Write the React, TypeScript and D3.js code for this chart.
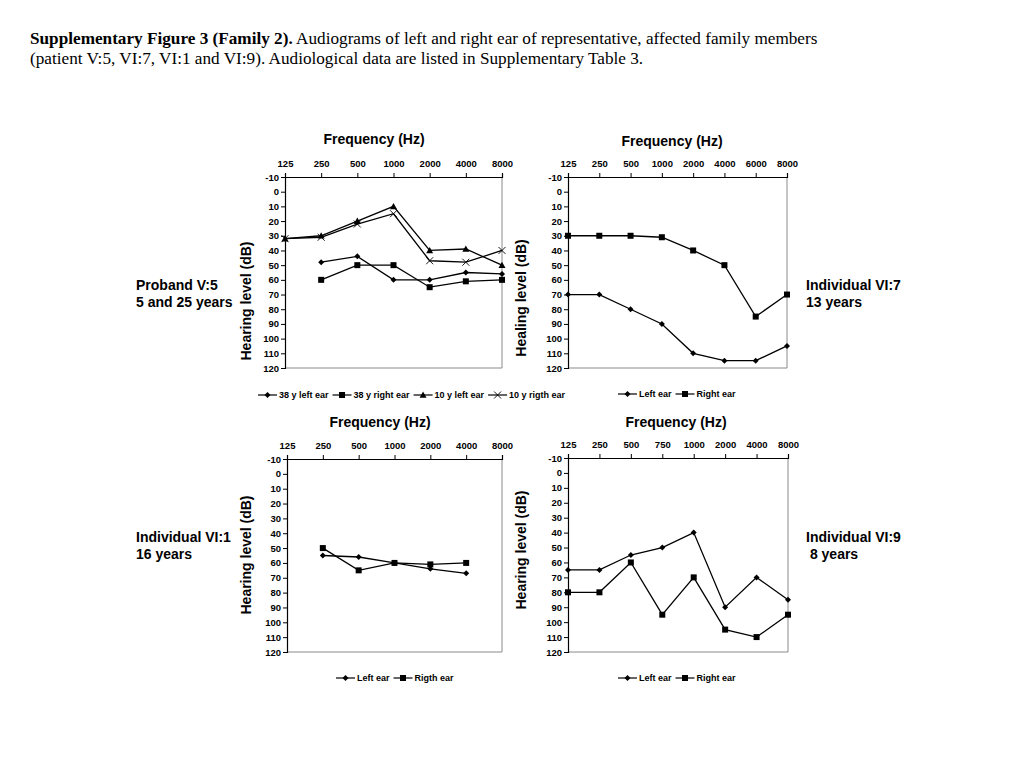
import React, { useEffect, useRef } from "react";
import * as d3 from "d3";

// ---------- data ----------
const yTicks = [-10, 0, 10, 20, 30, 40, 50, 60, 70, 80, 90, 100, 110, 120];

const catsA = ["125", "250", "500", "1000", "2000", "4000", "8000"];
const catsB = ["125", "250", "500", "1000", "2000", "4000", "6000", "8000"];
const catsD = ["125", "250", "500", "750", "1000", "2000", "4000", "8000"];

// Panel 1: Proband V:5
const p1Left38 = [null, 48, 44, 60, 60, 55, 56];
const p1Right38 = [null, 60, 50, 50, 65, 61, 60];
const p1Left10 = [32, 30, 20, 10, 40, 39, 50];
const p1Right10 = [32, 31, 22, 15, 47, 48, 40];

// Panel 2: Individual VI:7
const p2Left = [70, 70, 80, 90, 110, 115, 115, 105];
const p2Right = [30, 30, 30, 31, 40, 50, 85, 70];

// Panel 3: Individual VI:1
const p3Left = [null, 55, 56, 60, 64, 67, null];
const p3Right = [null, 50, 65, 60, 61, 60, null];

// Panel 4: Individual VI:9
const p4Left = [65, 65, 55, 50, 40, 90, 70, 85];
const p4Right = [80, 80, 60, 95, 70, 105, 110, 95];

type Marker = "diamond" | "square" | "triangle" | "cross";
interface Series { name: string; values: (number | null)[]; marker: Marker }
interface PanelCfg {
  x0: number; x1: number; y0: number; y1: number;
  cats: string[];
  series: Series[];
  titleX: number; titleY: number;
  yTitle: string; yTitleX: number; yTitleY: number;
  legendX: number; legendY: number;
  side: string[]; sideX: number; sideY: number;
}

const panels: PanelCfg[] = [
  {
    x0: 285, x1: 502, y0: 177, y1: 368, cats: catsA,
    series: [
      { name: "38 y left ear", values: p1Left38, marker: "diamond" },
      { name: "38 y right ear", values: p1Right38, marker: "square" },
      { name: "10 y left ear", values: p1Left10, marker: "triangle" },
      { name: "10 y rigth ear", values: p1Right10, marker: "cross" },
    ],
    titleX: 374, titleY: 144,
    yTitle: "Hearing level (dB)", yTitleX: 251, yTitleY: 301,
    legendX: 258, legendY: 395,
    side: ["Proband V:5", "5 and 25 years"], sideX: 136, sideY: 290,
  },
  {
    x0: 568, x1: 787, y0: 177, y1: 368, cats: catsB,
    series: [
      { name: "Left ear", values: p2Left, marker: "diamond" },
      { name: "Right ear", values: p2Right, marker: "square" },
    ],
    titleX: 672, titleY: 146,
    yTitle: "Healing level (dB)", yTitleX: 526, yTitleY: 298,
    legendX: 618, legendY: 394,
    side: ["Individual VI:7", "13 years"], sideX: 806, sideY: 290,
  },
  {
    x0: 287, x1: 502, y0: 459, y1: 652, cats: catsA,
    series: [
      { name: "Left ear", values: p3Left, marker: "diamond" },
      { name: "Rigth ear", values: p3Right, marker: "square" },
    ],
    titleX: 380, titleY: 427,
    yTitle: "Hearing level (dB)", yTitleX: 251, yTitleY: 555,
    legendX: 336, legendY: 678,
    side: ["Individual VI:1", "16 years"], sideX: 136, sideY: 542,
  },
  {
    x0: 568, x1: 788, y0: 458, y1: 652, cats: catsD,
    series: [
      { name: "Left ear", values: p4Left, marker: "diamond" },
      { name: "Right ear", values: p4Right, marker: "square" },
    ],
    titleX: 676, titleY: 427,
    yTitle: "Hearing level (dB)", yTitleX: 526, yTitleY: 550,
    legendX: 618, legendY: 678,
    side: ["Individual VI:9", " 8 years"], sideX: 806, sideY: 542,
  },
];

const FONT = "'Liberation Sans', Arial, sans-serif";

function drawMarker(g: d3.Selection<SVGGElement, unknown, null, undefined>, m: Marker, x: number, y: number) {
  if (m === "diamond") {
    g.append("path").attr("d", `M${x},${y - 3}L${x + 3},${y}L${x},${y + 3}L${x - 3},${y}Z`).attr("fill", "#000");
  } else if (m === "square") {
    g.append("rect").attr("x", x - 3).attr("y", y - 3).attr("width", 6).attr("height", 6).attr("fill", "#000");
  } else if (m === "triangle") {
    g.append("path").attr("d", `M${x},${y - 3.5}L${x + 3.5},${y + 2.8}L${x - 3.5},${y + 2.8}Z`).attr("fill", "#000");
  } else {
    g.append("path").attr("d", `M${x - 3.5},${y - 3.5}L${x + 3.5},${y + 3.5}M${x - 3.5},${y + 3.5}L${x + 3.5},${y - 3.5}`)
      .attr("stroke", "#000").attr("stroke-width", 0.9).attr("fill", "none");
  }
}

export default function App() {
  const ref = useRef<SVGSVGElement | null>(null);

  useEffect(() => {
    const svg = d3.select(ref.current);
    svg.selectAll("*").remove();

    // caption
    const cap = svg.append("text").attr("font-family", "'Liberation Serif', 'Times New Roman', serif")
      .attr("font-size", 17.2).attr("fill", "#000");
    const l1 = cap.append("tspan").attr("x", 30).attr("y", 44);
    l1.append("tspan").attr("font-weight", "bold").text("Supplementary Figure 3 (Family 2).");
    l1.append("tspan").text(" Audiograms of left and right ear of representative, affected family members");
    cap.append("tspan").attr("x", 30).attr("y", 64)
      .text("(patient V:5, VI:7, VI:1 and VI:9). Audiological data are listed in Supplementary Table 3.");

    panels.forEach((p) => {
      const g = svg.append("g");
      const x = d3.scalePoint<string>().domain(p.cats).range([p.x0, p.x1]).padding(0);
      const y = d3.scaleLinear().domain([-10, 120]).range([p.y0, p.y1]);

      // frame: right & bottom gray
      g.append("line").attr("x1", p.x1).attr("x2", p.x1).attr("y1", p.y0).attr("y2", p.y1).attr("stroke", "#8a8a8a");
      g.append("line").attr("x1", p.x0).attr("x2", p.x1).attr("y1", p.y1).attr("y2", p.y1).attr("stroke", "#8a8a8a");

      // top axis
      const top = g.append("g").attr("transform", `translate(0,${p.y0})`)
        .call(d3.axisTop(x).tickSize(4).tickPadding(6));
      top.select(".domain").attr("stroke", "#000").attr("stroke-width", 1.2);
      top.selectAll("text").attr("font-family", FONT).attr("font-size", 9.5).attr("font-weight", "bold").attr("fill", "#000");

      // left axis
      const left = g.append("g").attr("transform", `translate(${p.x0},0)`)
        .call(d3.axisLeft(y).tickValues(yTicks).tickSize(4).tickPadding(2).tickFormat((d) => String(d)));
      left.select(".domain").attr("stroke", "#000").attr("stroke-width", 1.2);
      left.selectAll("text").attr("font-family", FONT).attr("font-size", 9.5).attr("font-weight", "bold").attr("fill", "#000");

      // series
      p.series.forEach((s) => {
        const pts = s.values.map((v, i) => ({ c: p.cats[i], v })).filter((d) => d.v !== null) as { c: string; v: number }[];
        const line = d3.line<{ c: string; v: number }>().x((d) => x(d.c) as number).y((d) => y(d.v));
        g.append("path").attr("d", line(pts) || "").attr("fill", "none").attr("stroke", "#000").attr("stroke-width", 1.3);
        pts.forEach((d) => drawMarker(g, s.marker, x(d.c) as number, y(d.v)));
      });

      // titles
      g.append("text").attr("x", p.titleX).attr("y", p.titleY).attr("text-anchor", "middle")
        .attr("font-family", FONT).attr("font-size", 14).attr("font-weight", "bold").text("Frequency (Hz)");
      g.append("text").attr("transform", `translate(${p.yTitleX},${p.yTitleY}) rotate(-90)`).attr("text-anchor", "middle")
        .attr("font-family", FONT).attr("font-size", 14).attr("font-weight", "bold").text(p.yTitle);

      // legend
      let lx = p.legendX;
      p.series.forEach((s) => {
        const lg = g.append("g");
        lg.append("line").attr("x1", lx).attr("x2", lx + 19).attr("y1", p.legendY).attr("y2", p.legendY)
          .attr("stroke", "#000").attr("stroke-width", 1.2);
        drawMarker(lg, s.marker, lx + 9.5, p.legendY);
        const t = lg.append("text").attr("x", lx + 21).attr("y", p.legendY + 3)
          .attr("font-family", FONT).attr("font-size", 9).attr("font-weight", "bold").text(s.name);
        const w = (t.node() as SVGTextElement).getComputedTextLength();
        lx += 21 + w + 4;
      });

      // side label
      p.side.forEach((line, i) => {
        g.append("text").attr("x", p.sideX).attr("y", p.sideY + i * 17)
          .style("white-space", "pre")
          .attr("font-family", FONT).attr("font-size", 14).attr("font-weight", "bold").text(line);
      });
    });
  }, []);

  return (
    <svg ref={ref} width={1024} height={768} style={{ position: "absolute", left: 0, top: 0, background: "#fff" }} />
  );
}
